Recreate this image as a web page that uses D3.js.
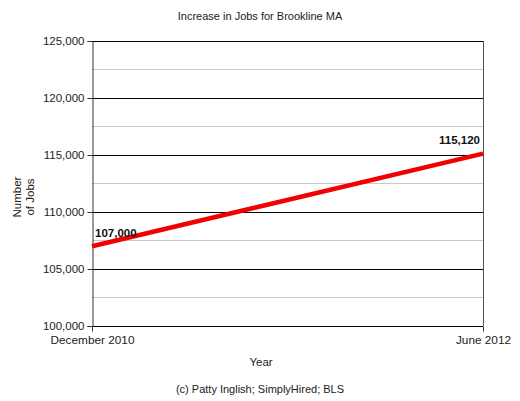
<!DOCTYPE html>
<html><head><meta charset="utf-8">
<script src="https://cdn.jsdelivr.net/npm/d3@7"></script>
<style>body{margin:0;background:#fff}svg{display:block;font-family:"Liberation Sans",Arial,sans-serif}</style>
</head><body>
<script>
const categories = ["December 2010", "June 2012"];
const values = [107000, 115120];
const valueLabels = ["107,000", "115,120"];
const yTicks = [100000, 105000, 110000, 115000, 120000, 125000];
const yMinor = [102500, 107500, 112500, 117500, 122500];

const W = 520, H = 401;
const m = {left: 92, right: 37, top: 41, bottom: 75};
const svg = d3.select("body").append("svg").attr("width", W).attr("height", H);
const x = d3.scalePoint().domain(categories).range([m.left, W - m.right]);
const y = d3.scaleLinear().domain([100000, 125000]).range([H - m.bottom, m.top]);

// minor grid
svg.append("g").selectAll("line").data(yMinor).join("line")
  .attr("x1", m.left).attr("x2", W - m.right)
  .attr("y1", d => y(d)).attr("y2", d => y(d))
  .attr("stroke", "#c8c8c8").attr("stroke-width", 1);

// major grid
svg.append("g").selectAll("line").data(yTicks).join("line")
  .attr("x1", m.left).attr("x2", W - m.right)
  .attr("y1", d => Math.round(y(d)) + 0.5).attr("y2", d => Math.round(y(d)) + 0.5)
  .attr("stroke", "#000").attr("stroke-width", 1);

// right border
svg.append("line").attr("x1", W - m.right + 0.5).attr("x2", W - m.right + 0.5)
  .attr("y1", m.top).attr("y2", H - m.bottom).attr("stroke", "#555");

// y axis
const yAxis = svg.append("g").attr("transform", `translate(${m.left + 0.5},0)`)
  .call(d3.axisLeft(y).tickValues(yTicks).tickSize(5).tickPadding(3).tickFormat(d3.format(",")));
yAxis.select(".domain").attr("stroke", "#333");
yAxis.selectAll("line").attr("stroke", "#333");
yAxis.selectAll("text").attr("font-size", 11.5).attr("fill", "#222").attr("font-family", "Liberation Sans, Arial, sans-serif");

// x axis
const xAxis = svg.append("g").attr("transform", `translate(0,${Math.round(H - m.bottom) + 0.5})`)
  .call(d3.axisBottom(x).tickSize(5));
xAxis.select(".domain").remove();
xAxis.selectAll("line").attr("stroke", "#333");
xAxis.selectAll("text").attr("font-size", 11.8).attr("fill", "#222").attr("font-family", "Liberation Sans, Arial, sans-serif")
  .attr("y", 17).attr("dy", 0);

// line
svg.append("path").datum(categories.map((c, i) => [c, values[i]]))
  .attr("fill", "none").attr("stroke", "#f00000").attr("stroke-width", 4.5)
  .attr("d", d3.line().x(d => x(d[0])).y(d => y(d[1])));

// value labels
svg.append("text").attr("x", x(categories[0]) + 3).attr("y", y(values[0]) - 9)
  .attr("font-size", 11.5).attr("font-weight", "bold").attr("fill", "#111").text(valueLabels[0]);
svg.append("text").attr("x", x(categories[1]) - 3).attr("y", y(values[1]) - 10)
  .attr("text-anchor", "end").attr("font-size", 11.5).attr("font-weight", "bold").attr("fill", "#111").text(valueLabels[1]);

// titles
svg.append("text").attr("x", 260).attr("y", 20).attr("text-anchor", "middle")
  .attr("font-size", 11).attr("fill", "#222").text("Increase in Jobs for Brookline MA");
svg.append("text").attr("x", 261).attr("y", 366).attr("text-anchor", "middle")
  .attr("font-size", 11.5).attr("fill", "#222").text("Year");
svg.append("text").attr("x", 260).attr("y", 393).attr("text-anchor", "middle")
  .attr("font-size", 11).attr("fill", "#222").text("(c) Patty Inglish; SimplyHired; BLS");
const yl = svg.append("text").attr("transform", "translate(21,197) rotate(-90)")
  .attr("text-anchor", "middle").attr("font-size", 11.5).attr("fill", "#222");
yl.append("tspan").attr("x", 0).attr("dy", 0).text("Number");
yl.append("tspan").attr("x", 0).attr("dy", "1.1em").text("of Jobs");
</script>
</body></html>
